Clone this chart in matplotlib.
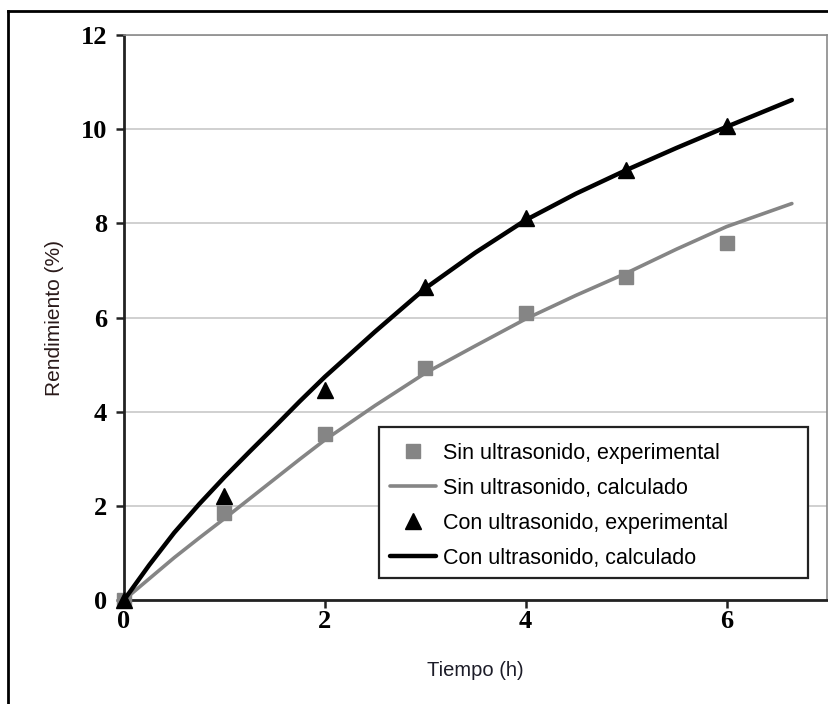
import matplotlib.pyplot as plt
from matplotlib.lines import Line2D
from matplotlib.patches import Rectangle

# Experimental points (h, %)
tiempo_exp = [0, 1, 2, 3, 4, 5, 6]
sin_ultra_exp = [0, 1.85, 3.52, 4.92, 6.1, 6.86, 7.58]
con_ultra_exp = [0, 2.2, 4.45, 6.65, 8.12, 9.13, 10.07]

# Calculated curves
tiempo_calc = [0, 0.25, 0.5, 0.75, 1, 1.25, 1.5, 1.75, 2, 2.5, 3, 3.5, 4, 4.5, 5, 5.5, 6, 6.65]
sin_ultra_calc = [0, 0.45, 0.9, 1.32, 1.73, 2.15, 2.57, 2.99, 3.4, 4.13, 4.82, 5.4, 5.97,
                  6.47, 6.94, 7.45, 7.93, 8.42]
con_ultra_calc = [0, 0.74, 1.43, 2.04, 2.61, 3.15, 3.68, 4.22, 4.74, 5.7, 6.62, 7.38, 8.07,
                  8.63, 9.13, 9.6, 10.05, 10.62]

x_ticks = [0, 2, 4, 6]
y_ticks = [0, 2, 4, 6, 8, 10, 12]

GREY = "#858585"

fig = plt.figure(figsize=(8.29, 7.04), dpi=100)
ax = fig.add_axes([0.1496, 0.1477, 0.848, 0.8026])

ax.set_xlim(0, 7)
ax.set_ylim(0, 12)
ax.set_xticks(x_ticks)
ax.set_yticks(y_ticks)

ax.grid(True, axis="y", color="#c8c8c8", linewidth=1.2)
ax.set_axisbelow(True)

ax.plot(tiempo_exp, sin_ultra_exp, linestyle="none", marker="s", markersize=9.5,
        color=GREY, label="Sin ultrasonido, experimental", clip_on=False, zorder=3)
ax.plot(tiempo_calc, sin_ultra_calc, color=GREY, linewidth=2.6,
        label="Sin ultrasonido, calculado", solid_capstyle="round",
        solid_joinstyle="round", zorder=4)
ax.plot(tiempo_exp, con_ultra_exp, linestyle="none", marker="^", markersize=11,
        color="black", label="Con ultrasonido, experimental", clip_on=False, zorder=5)
ax.plot(tiempo_calc, con_ultra_calc, color="black", linewidth=3.2,
        label="Con ultrasonido, calculado", solid_capstyle="round",
        solid_joinstyle="round", zorder=6)

for side in ("left", "bottom"):
    ax.spines[side].set_color("#222222")
    ax.spines[side].set_linewidth(2.0)
for side in ("top", "right"):
    ax.spines[side].set_color("#8a8a8a")
    ax.spines[side].set_linewidth(1.2)

ax.tick_params(axis="both", direction="out", length=6, width=1.8, color="#222222")
ax.tick_params(axis="y", pad=6)
ax.tick_params(axis="x", pad=1.5)
for lbl in ax.get_xticklabels() + ax.get_yticklabels():
    lbl.set_fontfamily("Liberation Serif")
    lbl.set_fontweight("bold")
    lbl.set_fontsize(19)

ax.set_xlabel("Tiempo (h)", fontfamily="Liberation Sans", fontsize=14.5, color="#1c1c28", labelpad=20)
ax.set_ylabel("Rendimiento (%)", fontfamily="Liberation Sans", fontsize=15, color="#2a1a1a", labelpad=12)

# legend box is wider than its entries, so the frame is drawn separately
box_x0, box_y0, box_x1, box_y1 = 0.3627, 0.039, 0.973, 0.306
ax.add_patch(Rectangle((box_x0, box_y0), box_x1 - box_x0, box_y1 - box_y0,
                       transform=ax.transAxes, facecolor="white", edgecolor="#222222",
                       linewidth=1.6, zorder=7))
leg = ax.legend(loc="upper left", bbox_to_anchor=(box_x0 + 0.007, box_y1 - 0.016), borderaxespad=0,
                prop={"family": "Liberation Sans", "size": 15.5}, handlelength=2.1,
                handletextpad=0.35, borderpad=0.3, labelspacing=0.65, frameon=False)
leg.set_zorder(8)

# outer frame along top and left edges
fig.add_artist(Line2D([8 / 829, 1], [1 - 11 / 704, 1 - 11 / 704], transform=fig.transFigure,
                      color="black", linewidth=2))
fig.add_artist(Line2D([8 / 829, 8 / 829], [0, 1 - 11 / 704], transform=fig.transFigure,
                      color="black", linewidth=2))

fig.savefig("out.png", dpi=100)
